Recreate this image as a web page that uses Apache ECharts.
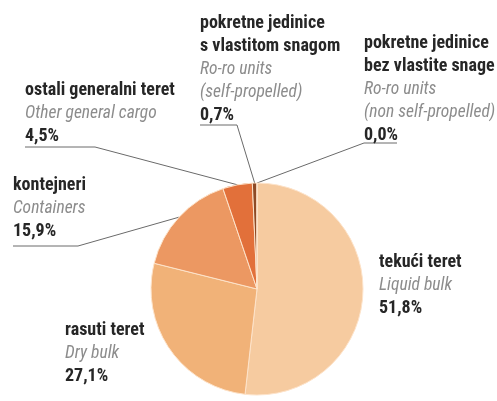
<!DOCTYPE html>
<html>
<head>
<meta charset="utf-8">
<script src="https://cdn.jsdelivr.net/npm/echarts@6/dist/echarts.min.js"></script>
<style>
html,body{margin:0;padding:0;background:#fff;}
#c{width:497px;height:401px;}
</style>
</head>
<body>
<div id="c"></div>
<script>
// Data
const namesHr = ['tekući teret', 'rasuti teret', 'kontejneri', 'ostali generalni teret',
  'pokretne jedinice\ns vlastitom snagom', 'pokretne jedinice\nbez vlastite snage'];
const namesEn = ['Liquid bulk', 'Dry bulk', 'Containers', 'Other general cargo',
  'Ro-ro units\n(self-propelled)', 'Ro-ro units\n(non self-propelled)'];
const shares = [51.8, 27.1, 15.9, 4.5, 0.7, 0.0];

// Styles / layout (not data)
const colors = ['#f6cba0', '#f1b278', '#ec9862', '#e2703a', '#8e4a25', '#8e4a25'];
const labelPos = [
  { x: 379, y: 251 },
  { x: 65, y: 319 },
  { x: 13, y: 174 },
  { x: 25, y: 79 },
  { x: 200, y: 12 },
  { x: 364, y: 32 }
];
// underline: [y, xNearPie, xFar]
const underline = [null, null, [246, 78, 13], [147, 95, 25], [125, 237, 200], [143, 364, 397]];

const FONT = 'Roboto, "DejaVu Sans Condensed", sans-serif';
const fmt = v => v.toFixed(1).replace('.', ',') + '%';

const chart = echarts.init(document.getElementById('c'));
chart.setOption({
  animation: false,
  series: [{
    type: 'pie',
    center: [257, 289],
    radius: [0, 106],
    startAngle: 90,
    clockwise: true,
    avoidLabelOverlap: false,
    stillShowZeroSum: true,
    minShowLabelAngle: 0,
    itemStyle: { borderColor: '#fde3ca', borderWidth: 1 },
    label: {
      show: true,
      position: 'outside',
      formatter: p => '{n|' + namesHr[p.dataIndex] + '}\n{e|' + namesEn[p.dataIndex] + '}\n{v|' + fmt(shares[p.dataIndex]) + '}',
      rich: {
        n: { fontFamily: FONT, fontSize: 18, fontWeight: 'bold condensed', color: '#262626', lineHeight: 23 },
        e: { fontFamily: FONT, fontSize: 17.5, fontStyle: 'italic', fontWeight: 'normal condensed', color: '#8c8c8c', lineHeight: 23 },
        v: { fontFamily: FONT, fontSize: 18, fontWeight: 'bold condensed', color: '#262626', lineHeight: 23 }
      }
    },
    labelLine: { show: true, lineStyle: { color: '#6a6a6a', width: 1 } },
    labelLayout: function (params) {
      const i = params.dataIndex;
      const out = { x: labelPos[i].x, y: labelPos[i].y, align: 'left', verticalAlign: 'top' };
      const u = underline[i];
      if (u && params.labelLinePoints) {
        const start = params.labelLinePoints[0];
        out.labelLinePoints = [[start[0], start[1]], [u[1], u[0]], [u[2], u[0]]];
      }
      return out;
    },
    data: shares.map((v, i) => ({
      value: v,
      name: namesHr[i],
      itemStyle: { color: colors[i] },
      labelLine: { show: underline[i] != null }
    }))
  }]
});
</script>
</body>
</html>
